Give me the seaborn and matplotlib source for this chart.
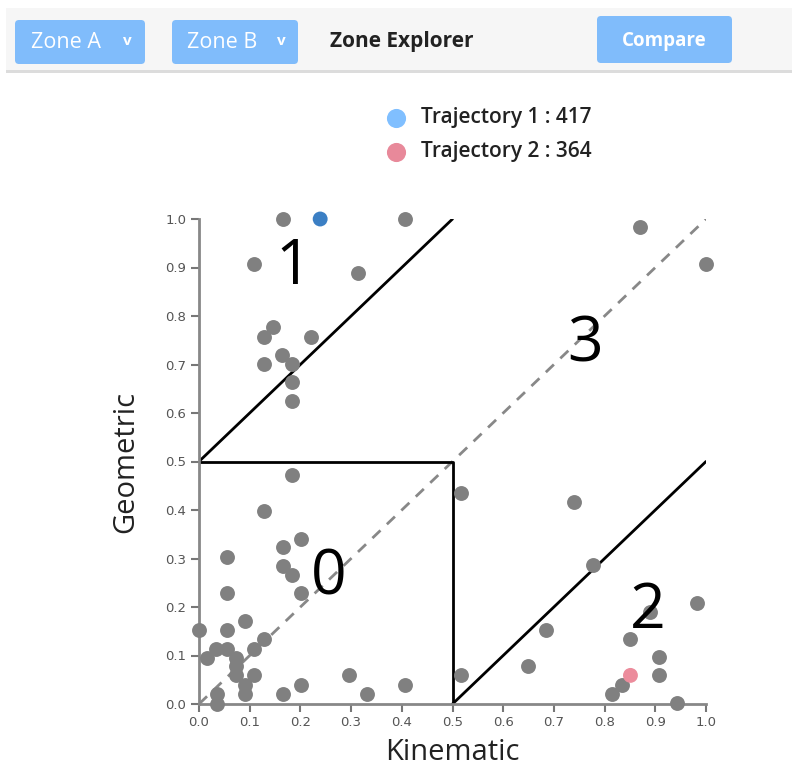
import matplotlib
matplotlib.use("Agg")
import matplotlib.pyplot as plt
import seaborn as sns
import pandas as pd
from matplotlib.patches import FancyBboxPatch, Rectangle

# ---- data ----
kinematic = [0.165, 0.406, 0.109, 0.313, 0.146, 0.128, 0.220, 0.164, 0.183, 0.128,
             0.184, 0.184, 0.184, 0.128, 0.201, 0.165, 0.055, 0.165, 0.183, 0.201,
             0.055, 0.091, 0.000, 0.055, 0.128, 0.033, 0.055, 0.109, 0.015, 0.073,
             0.073, 0.073, 0.109, 0.091, 0.091, 0.035, 0.035, 0.165, 0.201, 0.295,
             0.332, 0.406, 0.516, 0.516, 0.870, 1.000, 0.740, 0.778, 0.983, 0.890,
             0.684, 0.851, 0.907, 0.648, 0.907, 0.834, 0.814, 0.943]
geometric = [1.000, 1.000, 0.908, 0.889, 0.777, 0.757, 0.757, 0.720, 0.701, 0.701,
             0.663, 0.625, 0.473, 0.397, 0.341, 0.323, 0.303, 0.284, 0.265, 0.228,
             0.228, 0.171, 0.152, 0.152, 0.133, 0.114, 0.114, 0.114, 0.095, 0.095,
             0.078, 0.059, 0.059, 0.040, 0.021, 0.021, 0.000, 0.021, 0.040, 0.059,
             0.021, 0.040, 0.435, 0.059, 0.983, 0.908, 0.417, 0.286, 0.208, 0.189,
             0.153, 0.134, 0.096, 0.078, 0.059, 0.040, 0.021, 0.002]

highlight_x = [0.239, 0.851]
highlight_y = [1.000, 0.059]
highlight_colors = ["#3b7fc4", "#ec8c9c"]

legend_labels = ["Trajectory 1 : 417", "Trajectory 2 : 364"]
legend_colors = ["#80bfff", "#e8899a"]

zone_names = ["0", "1", "2", "3"]
zone_label_x = [0.255, 0.185, 0.886, 0.761]
zone_label_y = [0.26, 0.90, 0.19, 0.74]

# zone boundaries (solid) and the diagonal (dashed)
boundary_x = [[0.0, 0.5], [0.0, 0.5, 0.5], [0.5, 1.0]]
boundary_y = [[0.5, 1.0], [0.5, 0.5, 0.0], [0.0, 0.5]]
diag = [0.0, 1.0]

ticks = [0.0, 0.1, 0.2, 0.3, 0.4, 0.5, 0.6, 0.7, 0.8, 0.9, 1.0]

sns.set_style("white")
plt.rcParams['font.family'] = ['Open Sans', 'DejaVu Sans']

fig = plt.figure(figsize=(7.92, 7.66), dpi=100)

# ---- header bar (pixel coordinates) ----
ui = fig.add_axes([0, 0, 1, 1])
ui.set_xlim(0, 792)
ui.set_ylim(766, 0)
ui.axis("off")
ui.add_patch(Rectangle((6, 8), 786, 62, color="#f6f6f6", lw=0))
ui.add_patch(Rectangle((6, 70), 786, 3, color="#dcdcdc", lw=0))
for x0, w, y0, h in [(15, 130, 20, 44), (172, 126, 20, 44), (597, 135, 16, 47)]:
    ui.add_patch(FancyBboxPatch((x0 + 4, y0 + 4), w - 8, h - 8,
                                boxstyle="round,pad=4", fc="#80bcfb", ec="none"))
ui.text(31, 43, "Zone A", color="white", fontsize=15.5, va="center")
ui.text(123, 41, "v", color="white", fontsize=11, fontweight="bold", va="center")
ui.text(187, 43, "Zone B", color="white", fontsize=15.5, va="center")
ui.text(277, 41, "v", color="white", fontsize=11, fontweight="bold", va="center")
ui.text(330, 41, "Zone Explorer", color="#222222", fontsize=15, fontweight="bold", va="center")
ui.text(664, 41, "Compare", color="white", fontsize=13.5, fontweight="bold",
        va="center", ha="center")

# legend
for i, (lab, col) in enumerate(zip(legend_labels, legend_colors)):
    yy = 118 + i * 34
    ui.scatter([396], [yy], s=190, color=col, lw=0)
    ui.text(421, yy, lab, fontsize=15, fontweight="semibold", color="#222222", va="center")

# ---- main chart ----
ax = fig.add_axes([199 / 792, 62 / 766, 507 / 792, 485 / 766])
ax.patch.set_alpha(0)

ax.plot(diag, diag, color="#888888", lw=2, ls=(0, (4, 3.2)), zorder=1)
for bx, by in zip(boundary_x, boundary_y):
    ax.plot(bx, by, color="black", lw=2, zorder=2)

df = pd.DataFrame({"Kinematic": kinematic, "Geometric": geometric})
sns.scatterplot(data=df, x="Kinematic", y="Geometric", color="#808080", s=115,
                linewidth=0, ax=ax, zorder=3, clip_on=False)
sns.scatterplot(x=highlight_x, y=highlight_y, hue=[0, 1], palette=highlight_colors,
                s=115, linewidth=0, ax=ax, zorder=4, legend=False, clip_on=False)

for name, zx, zy in zip(zone_names, zone_label_x, zone_label_y):
    ax.text(zx, zy, name, fontsize=45, ha="center", va="center",
            color="black", zorder=5)

ax.set_xlim(0, 1)
ax.set_ylim(0, 1)
ax.set_xticks(ticks)
ax.set_yticks(ticks)
ax.set_xticklabels([f"{t:.1f}" for t in ticks])
ax.set_yticklabels([f"{t:.1f}" for t in ticks])
ax.tick_params(axis="both", direction="out", length=6, width=1.5, color="#777777",
               labelsize=9.5, labelcolor="#555555", pad=3, bottom=True, left=True)
for lab in ax.get_xticklabels() + ax.get_yticklabels():
    lab.set_family(["DejaVu Sans"])
sns.despine(ax=ax)
for side in ["left", "bottom"]:
    ax.spines[side].set_color("#888888")
    ax.spines[side].set_linewidth(2)
ax.set_xlabel("Kinematic", fontsize=21, color="#222222", labelpad=6)
ax.set_ylabel("Geometric", fontsize=21, color="#222222", labelpad=18)

fig.savefig("out.png", dpi=100)
